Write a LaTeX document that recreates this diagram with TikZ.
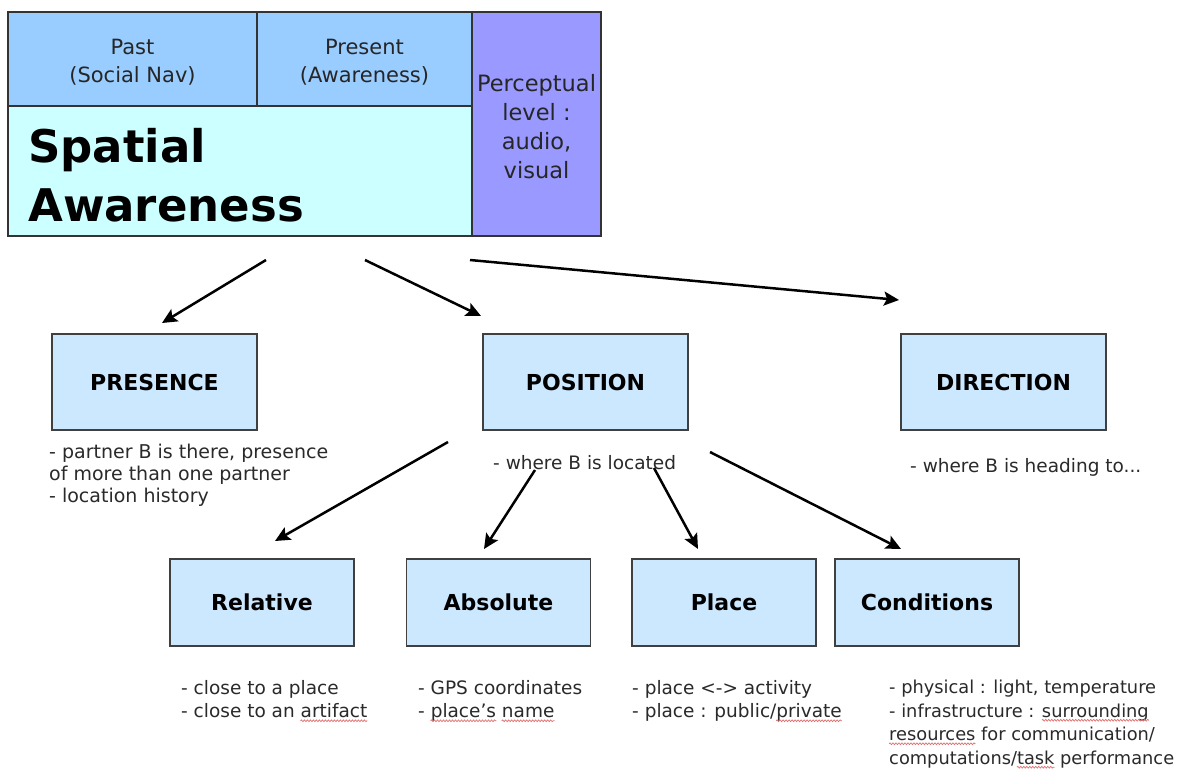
\documentclass[tikz,border=0pt]{standalone}
\usepackage{fontspec}
\setmainfont{DejaVu Sans}
\usetikzlibrary{arrows.meta,decorations.pathmorphing}
\definecolor{pastblue}{HTML}{99CCFF}
\definecolor{percep}{HTML}{9999FF}
\definecolor{spatial}{HTML}{CCFFFF}
\definecolor{boxblue}{HTML}{CCE8FF}
\definecolor{txtgray}{HTML}{2A2A2A}
\definecolor{squigred}{HTML}{E07070}
\newcommand\spellmark[1]{\tikz[baseline=(sw.base)]{\node[inner sep=0pt] (sw) {#1};\draw[overlay, squigred, line width=0.7pt, decorate, decoration={snake, amplitude=0.9pt, segment length=3pt}] ([yshift=-3pt]sw.base west) -- ([yshift=-3pt]sw.base east);}}
\tikzset{
  cell/.style={draw=black!80, line width=1.6pt, inner sep=0pt, align=center, text=black!85, font=\fontsize{21}{28}\selectfont},
  concept/.style={draw=black!75, line width=1.3pt, fill=boxblue, inner sep=0pt,
    minimum width=205pt, minimum height=96pt, font=\fontsize{22}{25}\bfseries\selectfont},
  sub/.style={concept, minimum width=184pt, minimum height=87pt},
  note/.style={inner sep=0pt, align=left, text=txtgray, anchor=north west, font=\fontsize{18.5}{23.5}\selectfont},
  arr/.style={line width=2.5pt, -{Stealth[length=15pt, width=14pt, inset=3pt]}}
}
\begin{document}
\begin{tikzpicture}[x=1pt, y=-1pt]
\useasboundingbox (0,0) rectangle (1201,774);
\fill[white] (0,0) rectangle (1201,774);
% top block
\node[cell, fill=pastblue, minimum width=249pt, minimum height=94pt] (past) at (132.5,59) {};
\node[cell, fill=pastblue, minimum width=215pt, minimum height=94pt] (present) at (364.5,59) {};
\node[cell, fill=percep, minimum width=129pt, minimum height=224pt] (percep) at (536.5,124) {};
\node[cell, fill=spatial, minimum width=464pt, minimum height=130pt] (spatial) at (240,171) {};
\node[cell, draw=none] (pasttext) at (132.5,62) {Past\\(Social Nav)};
\node[cell, draw=none] (presenttext) at (364.5,62) {Present\\(Awareness)};
\node[inner sep=0pt, align=left, anchor=west, font=\fontsize{45}{59}\bfseries\selectfont] (satext) at (28,175) {Spatial\\Awareness};
\node[inner sep=0pt, align=center, text=black!85, font=\fontsize{22.5}{29}\selectfont] (perctext) at (536.5,127) {Perceptual\\level :\\audio,\\visual};
% concept boxes
\node[concept] (presence) at (154.5,382) {PRESENCE};
\node[concept] (position) at (585.5,382) {POSITION};
\node[concept] (direction) at (1003.5,382) {DIRECTION};
\node[sub] (relative) at (262,602.5) {Relative};
\node[sub] (absolute) at (498.5,602.5) {Absolute};
\node[sub] (place) at (724,602.5) {Place};
\node[sub] (conditions) at (927,602.5) {Conditions};
% notes
\node[note, font=\fontsize{19}{22}\selectfont] (presnote) at (49,444) {- partner B is there, presence\\of more than one partner\\- location history};
\node[note] (posnote) at (493,455) {- where B is located};
\node[note] (dirnote) at (910,458) {- where B is heading to...};
\node[note] (relnote) at (181,680) {- close to a place\\- close to an \spellmark{artifact}};
\node[note] (absnote) at (418,680) {- GPS coordinates\\- \spellmark{place's} \spellmark{name}};
\node[note] (placenote) at (632,680) {- place <-> activity\\- place : public/\spellmark{private}};
\node[note, font=\fontsize{17.8}{23.5}\selectfont] (condnote) at (889,680) {- physical : light, temperature\\- infrastructure : \spellmark{surrounding}\\\spellmark{resources} for communication/\\computations/\spellmark{task} performance};
% arrow endpoints
\coordinate (a1s) at (266,260); \coordinate (a1e) at (162,323);
\coordinate (a2s) at (365,260); \coordinate (a2e) at (481,316);
\coordinate (a3s) at (470,260); \coordinate (a3e) at (899,300);
\coordinate (a4s) at (448,442); \coordinate (a4e) at (275,541);
\coordinate (a5s) at (535,470); \coordinate (a5e) at (484,549);
\coordinate (a6s) at (654,468); \coordinate (a6e) at (698,549);
\coordinate (a7s) at (710,452); \coordinate (a7e) at (901,549);
\draw[arr] (a1s) -- (a1e);
\draw[arr] (a2s) -- (a2e);
\draw[arr] (a3s) -- (a3e);
\draw[arr] (a4s) -- (a4e);
\draw[arr] (a5s) -- (a5e);
\draw[arr] (a6s) -- (a6e);
\draw[arr] (a7s) -- (a7e);
\end{tikzpicture}
\end{document}
